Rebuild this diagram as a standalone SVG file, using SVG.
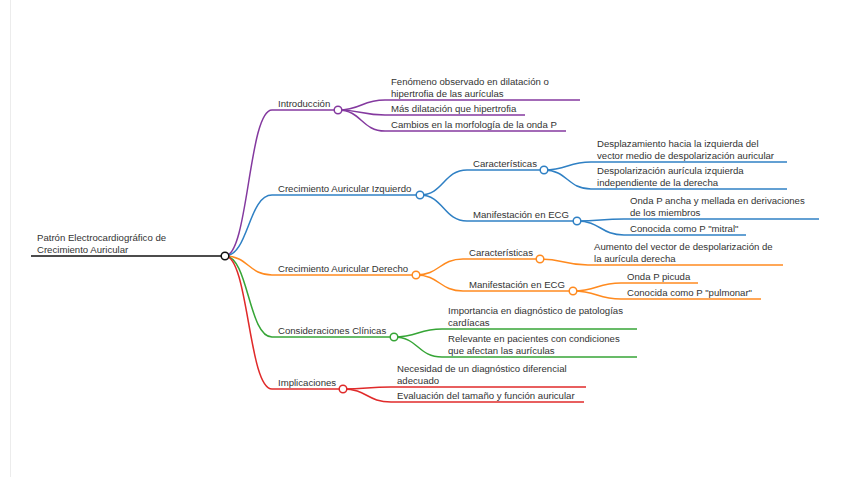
<svg xmlns="http://www.w3.org/2000/svg" width="848" height="477" viewBox="0 0 848 477">
<style>
text{font-family:"Liberation Sans",Arial,sans-serif;font-size:9.6px;fill:#333}
.l{fill:none;stroke-width:1.5}
.c{fill:#fff;stroke-width:1.5}
.k{stroke:#111}
.p{stroke:#84399f}
.b{stroke:#2f80c4}
.o{stroke:#ff8a1f}
.g{stroke:#36a536}
.r{stroke:#e02a2a}
</style>
<rect width="848" height="477" fill="#fff"/>
<line x1="10.5" y1="0" x2="10.5" y2="477" stroke="#ececec" stroke-width="1"/>
<g id="connectors">
<path class="l p" d="M225 256C248.5 256 248.5 110 272 110"/>
<path class="l b" d="M225 256C248.5 256 248.5 195 272 195"/>
<path class="l o" d="M225 256C248.5 256 248.5 275 272 275"/>
<path class="l g" d="M225 256C248.5 256 248.5 337 272 337"/>
<path class="l r" d="M225 256C248.5 256 248.5 389 272 389"/>
<path class="l p" d="M338 110C361.5 110 361.5 100 385 100"/>
<path class="l p" d="M338 110C361.5 110 361.5 115 385 115"/>
<path class="l p" d="M338 110C361.5 110 361.5 131 385 131"/>
<path class="l b" d="M420 195C443.5 195 443.5 170 467 170"/>
<path class="l b" d="M420 195C443.5 195 443.5 221 467 221"/>
<path class="l b" d="M544 170C567.5 170 567.5 162 591 162"/>
<path class="l b" d="M544 170C567.5 170 567.5 189 591 189"/>
<path class="l b" d="M577 221C600.5 221 600.5 219 624 219"/>
<path class="l b" d="M577 221C600.5 221 600.5 235 624 235"/>
<path class="l o" d="M416 275C439.5 275 439.5 259 463 259"/>
<path class="l o" d="M416 275C439.5 275 439.5 291 463 291"/>
<path class="l o" d="M540 259C564 259 564 265 588 265"/>
<path class="l o" d="M573 291C597 291 597 283 621 283"/>
<path class="l o" d="M573 291C597 291 597 299 621 299"/>
<path class="l g" d="M394 337C418 337 418 329 442 329"/>
<path class="l g" d="M394 337C418 337 418 357 442 357"/>
<path class="l r" d="M343 389C367 389 367 387 391 387"/>
<path class="l r" d="M343 389C367 389 367 402 391 402"/>
</g>
<g id="root">
<line class="l k" x1="31" y1="256" x2="225" y2="256"/>
<text x="37" y="240.9">Patrón Electrocardiográfico de</text>
<text x="37" y="253.2">Crecimiento Auricular</text>
<circle class="c k" cx="225" cy="256" r="3.8"/>
</g>
<g id="introduccion">
<line class="l p" x1="272" y1="110" x2="338" y2="110"/>
<text x="278" y="107.2">Introducción</text>
<circle class="c p" cx="338" cy="110" r="3.8"/>
</g>
<g id="fenomeno">
<line class="l p" x1="385" y1="100" x2="580" y2="100"/>
<text x="391" y="84.9">Fenómeno observado en dilatación o</text>
<text x="391" y="97.2">hipertrofia de las aurículas</text>
</g>
<g id="mas-dilatacion">
<line class="l p" x1="385" y1="115" x2="525" y2="115"/>
<text x="391" y="112.2">Más dilatación que hipertrofia</text>
</g>
<g id="cambios">
<line class="l p" x1="385" y1="131" x2="566" y2="131"/>
<text x="391" y="128.2">Cambios en la morfología de la onda P</text>
</g>
<g id="crecimiento-izquierdo">
<line class="l b" x1="272" y1="195" x2="420" y2="195"/>
<text x="278" y="192.2">Crecimiento Auricular Izquierdo</text>
<circle class="c b" cx="420" cy="195" r="3.8"/>
</g>
<g id="izq-caracteristicas">
<line class="l b" x1="467" y1="170" x2="544" y2="170"/>
<text x="473" y="167.2">Características</text>
<circle class="c b" cx="544" cy="170" r="3.8"/>
</g>
<g id="desplazamiento">
<line class="l b" x1="591" y1="162" x2="787" y2="162"/>
<text x="597" y="146.9">Desplazamiento hacia la izquierda del</text>
<text x="597" y="159.2">vector medio de despolarización auricular</text>
</g>
<g id="despolarizacion">
<line class="l b" x1="591" y1="189" x2="787" y2="189"/>
<text x="597" y="173.9">Despolarización aurícula izquierda</text>
<text x="597" y="186.2">independiente de la derecha</text>
</g>
<g id="izq-manifestacion">
<line class="l b" x1="467" y1="221" x2="577" y2="221"/>
<text x="473" y="218.2">Manifestación en ECG</text>
<circle class="c b" cx="577" cy="221" r="3.8"/>
</g>
<g id="onda-p-ancha">
<line class="l b" x1="624" y1="219" x2="819" y2="219"/>
<text x="630" y="203.9">Onda P ancha y mellada en derivaciones</text>
<text x="630" y="216.2">de los miembros</text>
</g>
<g id="p-mitral">
<line class="l b" x1="624" y1="235" x2="746" y2="235"/>
<text x="630" y="232.2">Conocida como P "mitral"</text>
</g>
<g id="crecimiento-derecho">
<line class="l o" x1="272" y1="275" x2="416" y2="275"/>
<text x="278" y="272.2">Crecimiento Auricular Derecho</text>
<circle class="c o" cx="416" cy="275" r="3.8"/>
</g>
<g id="der-caracteristicas">
<line class="l o" x1="463" y1="259" x2="540" y2="259"/>
<text x="469" y="256.2">Características</text>
<circle class="c o" cx="540" cy="259" r="3.8"/>
</g>
<g id="aumento">
<line class="l o" x1="588" y1="265" x2="783" y2="265"/>
<text x="594" y="249.9">Aumento del vector de despolarización de</text>
<text x="594" y="262.2">la aurícula derecha</text>
</g>
<g id="der-manifestacion">
<line class="l o" x1="463" y1="291" x2="573" y2="291"/>
<text x="469" y="288.2">Manifestación en ECG</text>
<circle class="c o" cx="573" cy="291" r="3.8"/>
</g>
<g id="onda-p-picuda">
<line class="l o" x1="621" y1="283" x2="698" y2="283"/>
<text x="627" y="280.2">Onda P picuda</text>
</g>
<g id="p-pulmonar">
<line class="l o" x1="621" y1="299" x2="761" y2="299"/>
<text x="627" y="296.2">Conocida como P "pulmonar"</text>
</g>
<g id="consideraciones">
<line class="l g" x1="272" y1="337" x2="394" y2="337"/>
<text x="278" y="334.2">Consideraciones Clínicas</text>
<circle class="c g" cx="394" cy="337" r="3.8"/>
</g>
<g id="importancia">
<line class="l g" x1="442" y1="329" x2="637" y2="329"/>
<text x="448" y="313.9">Importancia en diagnóstico de patologías</text>
<text x="448" y="326.2">cardíacas</text>
</g>
<g id="relevante">
<line class="l g" x1="442" y1="357" x2="637" y2="357"/>
<text x="448" y="341.9">Relevante en pacientes con condiciones</text>
<text x="448" y="354.2">que afectan las aurículas</text>
</g>
<g id="implicaciones">
<line class="l r" x1="272" y1="389" x2="343" y2="389"/>
<text x="278" y="386.2">Implicaciones</text>
<circle class="c r" cx="343" cy="389" r="3.8"/>
</g>
<g id="necesidad">
<line class="l r" x1="391" y1="387" x2="586" y2="387"/>
<text x="397" y="371.9">Necesidad de un diagnóstico diferencial</text>
<text x="397" y="384.2">adecuado</text>
</g>
<g id="evaluacion">
<line class="l r" x1="391" y1="402" x2="584" y2="402"/>
<text x="397" y="399.2">Evaluación del tamaño y función auricular</text>
</g>
</svg>
